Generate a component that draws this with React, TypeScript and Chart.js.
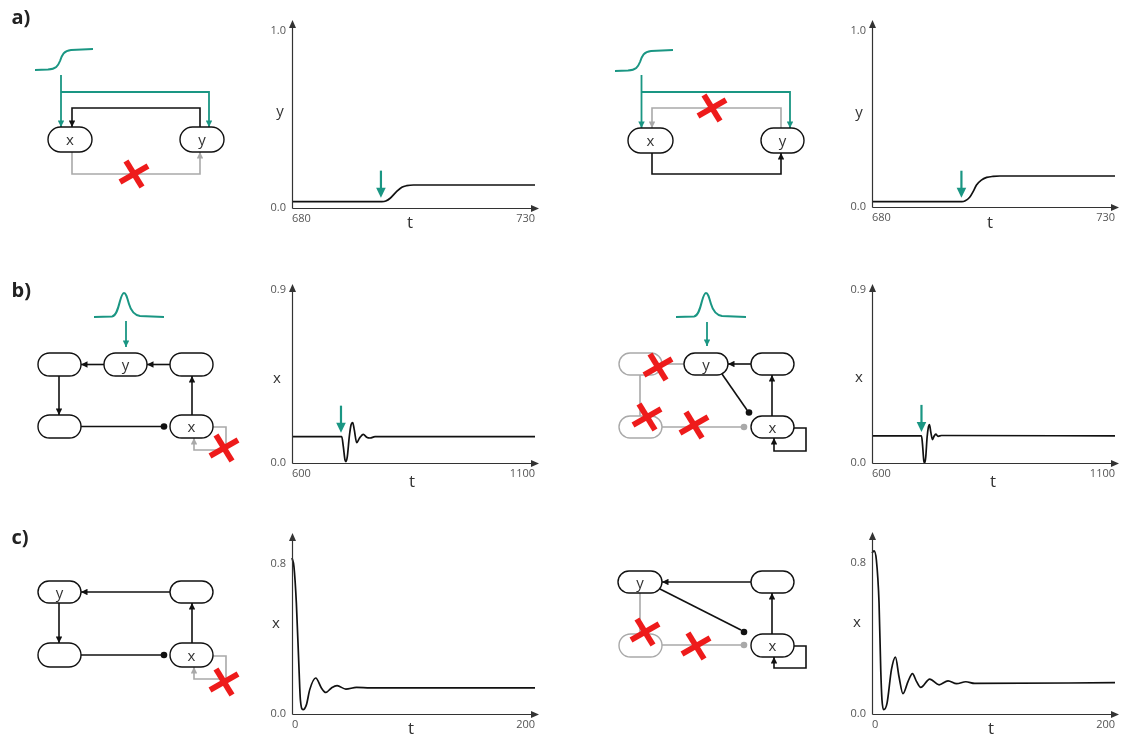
import React, { useEffect, useRef } from "react";
import { Chart, registerables } from "chart.js";

Chart.register(...registerables);

const FONT = "'Open Sans', 'DejaVu Sans', sans-serif";
const TEAL = "#1a9683";
const RED = "#ee1b1b";
const GREY = "#a9a9a9";
const INK = "#111111";
const AXIS = "#333333";
const TICK = "#555555";

// ---------------- data ----------------
const aTicksX = [680, 730];
const aTicksY = [0, 1.0];
const bTicksX = [600, 1100];
const bTicksY = [0, 0.9];
const cTicksX = [0, 200];
const cTicksY = [0, 0.8];

const a1T = [680, 698.5, 699.3, 700.2, 701.5, 702.6, 703.6, 705, 730];
const a1Y = [0.036, 0.036, 0.04, 0.055, 0.092, 0.117, 0.126, 0.13, 0.13];

const a2T = [680, 698.5, 699.1, 700.1, 700.8, 701.5, 702.5, 703.6, 704.9, 706.3, 730];
const a2Y = [0.03, 0.03, 0.034, 0.055, 0.087, 0.125, 0.153, 0.168, 0.174, 0.176, 0.176];

const b1T = [600, 702.3, 705.6, 709, 711, 713.8, 717.9, 721.4, 724.9, 728.2, 733.1, 738.5, 746.7, 753.7, 760.5, 770.8, 1100];
const b1X = [0.137, 0.137, 0.085, 0.016, 0.007, 0.033, 0.137, 0.198, 0.21, 0.172, 0.106, 0.128, 0.149, 0.134, 0.13, 0.137, 0.137];

const b2T = [600, 701.8, 703.8, 706.5, 708.6, 710.6, 713.4, 716.1, 718.2, 720.9, 724.4, 727.7, 731.2, 736, 743, 1100];
const b2X = [0.141, 0.141, 0.101, 0.014, 0.0, 0.031, 0.135, 0.188, 0.2, 0.162, 0.122, 0.139, 0.15, 0.139, 0.143, 0.141];

const c1T = [0, 1.6, 3.6, 5.8, 6.9, 9.1, 11.9, 14.6, 19.5, 24.2, 27.8, 32.5, 37.1, 44.3, 53.1, 64.4, 200];
const c1X = [0.832, 0.786, 0.59, 0.236, 0.076, 0.023, 0.05, 0.13, 0.192, 0.139, 0.115, 0.139, 0.151, 0.133, 0.142, 0.139, 0.139];

const c2T = [0, 1.6, 3.6, 5.8, 7.2, 8.2, 9.6, 12.4, 16, 19.3, 22.2, 25.5, 29.7, 33.3, 36.6, 40.1, 47.5, 55.2, 62.6, 69.6, 77.2, 84.6, 200];
const c2X = [0.853, 0.865, 0.817, 0.588, 0.235, 0.076, 0.023, 0.058, 0.235, 0.302, 0.199, 0.108, 0.173, 0.214, 0.173, 0.141, 0.185, 0.155, 0.176, 0.161, 0.171, 0.162, 0.166];

// perturbation times (green arrows)
const a1Mark = 698.3;
const a2Mark = 698.4;
const b1Mark = 700.8;
const b2Mark = 701.8;

// ---------------- layout ----------------
type PlotCfg = {
  ax: number; bot: number; top: number; right: number;
  t: number[]; v: number[]; xt: number[]; yt: number[];
  ymax: number; topExt: number; mark: number | null;
};

const plots: PlotCfg[] = [
  { ax: 292, bot: 208, top: 31, right: 535, t: a1T, v: a1Y, xt: aTicksX, yt: aTicksY, ymax: 1.0, topExt: 11, mark: a1Mark },
  { ax: 872, bot: 207, top: 31, right: 1115, t: a2T, v: a2Y, xt: aTicksX, yt: aTicksY, ymax: 1.0, topExt: 11, mark: a2Mark },
  { ax: 292, bot: 463, top: 290, right: 535, t: b1T, v: b1X, xt: bTicksX, yt: bTicksY, ymax: 0.9, topExt: 6, mark: b1Mark },
  { ax: 872, bot: 463, top: 290, right: 1115, t: b2T, v: b2X, xt: bTicksX, yt: bTicksY, ymax: 0.9, topExt: 6, mark: b2Mark },
  { ax: 292, bot: 714, top: 534, right: 535, t: c1T, v: c1X, xt: cTicksX, yt: cTicksY, ymax: 0.96, topExt: 1, mark: null },
  { ax: 872, bot: 714, top: 533, right: 1115, t: c2T, v: c2X, xt: cTicksX, yt: cTicksY, ymax: 0.96, topExt: 1, mark: null },
];

const YW = 40;
const XH = 22;
const PADT = 15;
const PADR = 15;

const arrowAxes = {
  id: "arrowAxes",
  afterDraw(chart: any, _args: any, o: any) {
    const { ctx, chartArea: a, scales } = chart;
    const L = Math.round(a.left) + 0.5;
    const B = Math.round(a.bottom) + 0.5;
    ctx.save();
    ctx.strokeStyle = AXIS;
    ctx.fillStyle = AXIS;
    ctx.lineWidth = 1.2;
    const yTip = a.top - o.topExt;
    ctx.beginPath();
    ctx.moveTo(L, B);
    ctx.lineTo(L, yTip + 4);
    ctx.stroke();
    ctx.beginPath();
    ctx.moveTo(L, yTip);
    ctx.lineTo(L - 3.5, yTip + 8);
    ctx.lineTo(L + 3.5, yTip + 8);
    ctx.closePath();
    ctx.fill();
    const xTip = a.right + 4;
    ctx.beginPath();
    ctx.moveTo(L, B);
    ctx.lineTo(xTip - 4, B);
    ctx.stroke();
    ctx.beginPath();
    ctx.moveTo(xTip, B);
    ctx.lineTo(xTip - 8, B - 3.5);
    ctx.lineTo(xTip - 8, B + 3.5);
    ctx.closePath();
    ctx.fill();
    if (o.mark != null) {
      const px = scales.x.getPixelForValue(o.mark);
      const tip = scales.y.getPixelForValue(o.base) - 4;
      ctx.strokeStyle = TEAL;
      ctx.fillStyle = TEAL;
      ctx.lineWidth = 2.2;
      ctx.beginPath();
      ctx.moveTo(px, tip - 27);
      ctx.lineTo(px, tip - 8);
      ctx.stroke();
      ctx.beginPath();
      ctx.moveTo(px, tip);
      ctx.lineTo(px - 4.8, tip - 10);
      ctx.lineTo(px + 4.8, tip - 10);
      ctx.closePath();
      ctx.fill();
    }
    ctx.restore();
  },
};

function Plot({ cfg }: { cfg: PlotCfg }) {
  const ref = useRef<HTMLCanvasElement | null>(null);
  const left = cfg.ax - YW;
  const ctop = cfg.top - PADT;
  const w = cfg.right + PADR - left;
  const h = cfg.bot + XH - ctop;
  useEffect(() => {
    if (!ref.current) return;
    const xmin = cfg.xt[0];
    const xmax = cfg.xt[cfg.xt.length - 1];
    const chart = new Chart(ref.current, {
      type: "line",
      data: {
        datasets: [
          {
            data: cfg.t.map((x, i) => ({ x, y: cfg.v[i] })),
            borderColor: INK,
            borderWidth: 1.7,
            pointRadius: 0,
            cubicInterpolationMode: "monotone",
            fill: false,
            clip: false as any,
          },
        ],
      },
      options: {
        responsive: false,
        animation: false,
        events: [],
        layout: { padding: { top: PADT, right: PADR, left: 0, bottom: 0 } },
        plugins: {
          legend: { display: false },
          tooltip: { enabled: false },
          arrowAxes: { topExt: cfg.topExt, mark: cfg.mark, base: cfg.v[0] },
        } as any,
        scales: {
          x: {
            type: "linear",
            min: xmin,
            max: xmax,
            grid: { display: false, drawTicks: false },
            border: { display: false },
            afterBuildTicks: (s: any) => {
              s.ticks = cfg.xt.map((value) => ({ value }));
            },
            afterFit: (s: any) => {
              s.height = XH;
            },
            ticks: {
              align: "inner",
              padding: 4,
              maxRotation: 0,
              autoSkip: false,
              color: TICK,
              font: { family: FONT, size: 11 },
              callback: (v: any) => String(v),
            },
          },
          y: {
            type: "linear",
            min: 0,
            max: cfg.ymax,
            grid: { display: false, drawTicks: false },
            border: { display: false },
            afterBuildTicks: (s: any) => {
              s.ticks = cfg.yt.map((value) => ({ value }));
            },
            afterFit: (s: any) => {
              s.width = YW;
            },
            ticks: {
              padding: 6,
              autoSkip: false,
              color: TICK,
              font: { family: FONT, size: 11 },
              callback: (v: any) => Number(v).toFixed(1),
            },
          },
        },
      },
      plugins: [arrowAxes as any],
    });
    return () => chart.destroy();
  }, []);
  return (
    <canvas
      ref={ref}
      width={w}
      height={h}
      style={{ position: "absolute", left, top: ctop, width: w, height: h }}
    />
  );
}

// ---------------- diagram helpers ----------------
function Node({ x1, y1, x2, y2, label, grey }: any) {
  const h = y2 - y1;
  return (
    <g>
      <rect x={x1} y={y1} width={x2 - x1} height={h} rx={h / 2} ry={h / 2} fill="#fff" stroke={grey ? GREY : INK} strokeWidth={1.4} />
      {label ? (
        <text x={(x1 + x2) / 2} y={(y1 + y2) / 2 + 5.5} textAnchor="middle" fontSize={15} fill="#333" fontFamily={FONT}>
          {label}
        </text>
      ) : null}
    </g>
  );
}

function Cross({ cx, cy }: any) {
  return (
    <g stroke={RED} strokeWidth={5.8}>
      <line x1={cx - 14} y1={cy + 8} x2={cx + 14} y2={cy - 8} />
      <line x1={cx - 8} y1={cy - 13} x2={cx + 8} y2={cy + 13} />
    </g>
  );
}

function P({ d, c, m }: any) {
  const color = c === "g" ? GREY : c === "t" ? TEAL : INK;
  const mk = m ? `url(#m${c})` : undefined;
  return <path d={d} fill="none" stroke={color} strokeWidth={c === "t" ? 1.8 : 1.6} markerEnd={mk} />;
}

function Dot({ x, y, g }: any) {
  return <circle cx={x} cy={y} r={3.3} fill={g ? GREY : INK} />;
}

const sig = (x0: number, y0: number) =>
  `M${x0},${y0} L${x0 + 13},${y0 - 0.5} C${x0 + 21},${y0 - 1} ${x0 + 23},${y0 - 4} ${x0 + 25},${y0 - 9} C${x0 + 27},${y0 - 15} ${x0 + 29},${y0 - 19.5} ${x0 + 36},${y0 - 20} L${x0 + 58},${y0 - 21}`;

const peak = (x0: number, y0: number) =>
  `M${x0},${y0} L${x0 + 18},${y0 - 0.5} C${x0 + 22},${y0 - 1} ${x0 + 24},${y0 - 8} ${x0 + 26},${y0 - 16} C${x0 + 28},${y0 - 23} ${x0 + 29},${y0 - 24} ${x0 + 30},${y0 - 24} C${x0 + 32},${y0 - 24} ${x0 + 33},${y0 - 20} ${x0 + 35},${y0 - 13} C${x0 + 37},${y0 - 6} ${x0 + 40},${y0 - 2} ${x0 + 46},${y0 - 1} L${x0 + 70},${y0}`;

function Lbl({ x, y, s, size }: any) {
  return (
    <text x={x} y={y} textAnchor="middle" fontSize={size} fill="#333" fontFamily={FONT}>
      {s}
    </text>
  );
}

function Overlay() {
  return (
    <svg width={1123} height={737} style={{ position: "absolute", left: 0, top: 0 }}>
      <defs>
        {[
          ["mk", INK],
          ["mg", GREY],
          ["mt", TEAL],
        ].map(([id, c]) => (
          <marker key={id} id={id} viewBox="0 0 10 10" refX="10" refY="5" markerWidth="7" markerHeight="6.5" markerUnits="userSpaceOnUse" orient="auto">
            <path d="M0,0 L10,5 L0,10 z" fill={c} />
          </marker>
        ))}
      </defs>

      {/* panel letters */}
      <text x={11.5} y={24} fontSize={20} fontWeight={700} fill="#222" fontFamily={FONT}>a)</text>
      <text x={11.5} y={297} fontSize={20} fontWeight={700} fill="#222" fontFamily={FONT}>b)</text>
      <text x={11.5} y={544} fontSize={20} fontWeight={700} fill="#222" fontFamily={FONT}>c)</text>

      {/* plot axis labels */}
      <Lbl x={280} y={116} s="y" size={15} />
      <Lbl x={410} y={228} s="t" size={17} />
      <Lbl x={859} y={117} s="y" size={15} />
      <Lbl x={990} y={228} s="t" size={17} />
      <Lbl x={277} y={382.5} s="x" size={15} />
      <Lbl x={412} y={487} s="t" size={17} />
      <Lbl x={859} y={382} s="x" size={15} />
      <Lbl x={993} y={487} s="t" size={17} />
      <Lbl x={276} y={627.5} s="x" size={15} />
      <Lbl x={411} y={734} s="t" size={17} />
      <Lbl x={857} y={627} s="x" size={15} />
      <Lbl x={991} y={734} s="t" size={17} />

      {/* ---- diagram a-left ---- */}
      <path d={sig(35, 70)} fill="none" stroke={TEAL} strokeWidth={2} />
      <P d="M61,75 L61,127" c="t" m />
      <P d="M61,92 L209,92 L209,127" c="t" m />
      <P d="M200,127 L200,108 L72,108 L72,127" c="k" m />
      <P d="M72,152 L72,174 L200,174 L200,152" c="g" m />
      <Node x1={48} y1={127} x2={92} y2={152} label="x" />
      <Node x1={180} y1={127} x2={224} y2={152} label="y" />
      <Cross cx={134} cy={174} />

      {/* ---- diagram a-right ---- */}
      <path d={sig(615, 71)} fill="none" stroke={TEAL} strokeWidth={2} />
      <P d="M641.5,75 L641.5,128" c="t" m />
      <P d="M641.5,92 L790,92 L790,128" c="t" m />
      <P d="M781,128 L781,108 L652,108 L652,128" c="g" m />
      <P d="M652,153 L652,174 L781,174 L781,153" c="k" m />
      <Node x1={628} y1={128} x2={673} y2={153} label="x" />
      <Node x1={761} y1={128} x2={804} y2={153} label="y" />
      <Cross cx={712} cy={108} />

      {/* ---- diagram b-left ---- */}
      <path d={peak(94, 317)} fill="none" stroke={TEAL} strokeWidth={2} />
      <P d="M126,321 L126,347" c="t" m />
      <P d="M170,364.5 L147,364.5" c="k" m />
      <P d="M104,364.5 L81,364.5" c="k" m />
      <P d="M59,376 L59,415" c="k" m />
      <P d="M81,426.5 L162,426.5" c="k" />
      <Dot x={164} y={426.5} />
      <P d="M192,415 L192,376" c="k" m />
      <P d="M213,427 L226,427 L226,450 L194,450 L194,438" c="g" m />
      <Node x1={38} y1={353} x2={81} y2={376} />
      <Node x1={104} y1={353} x2={147} y2={376} label="y" />
      <Node x1={170} y1={353} x2={213} y2={376} />
      <Node x1={38} y1={415} x2={81} y2={438} />
      <Node x1={170} y1={415} x2={213} y2={438} label="x" />
      <Cross cx={224} cy={448} />

      {/* ---- diagram b-right ---- */}
      <path d={peak(676, 317)} fill="none" stroke={TEAL} strokeWidth={2} />
      <P d="M707,322 L707,346" c="t" m />
      <P d="M684,364 L662,364" c="g" />
      <P d="M751,364 L728,364" c="k" m />
      <P d="M640,375 L640,416" c="g" />
      <P d="M662,427 L741,427" c="g" />
      <Dot x={744} y={427} g />
      <P d="M722,374 L747,410" c="k" />
      <Dot x={749} y={412.5} />
      <P d="M772,416 L772,375" c="k" m />
      <P d="M794,428 L806,428 L806,451 L774,451 L774,438" c="k" m />
      <Node x1={619} y1={353} x2={662} y2={375} grey />
      <Node x1={684} y1={353} x2={728} y2={375} label="y" />
      <Node x1={751} y1={353} x2={794} y2={375} />
      <Node x1={619} y1={416} x2={662} y2={438} grey />
      <Node x1={751} y1={416} x2={794} y2={438} label="x" />
      <Cross cx={658} cy={367} />
      <Cross cx={647} cy={417} />
      <Cross cx={694} cy={425} />

      {/* ---- diagram c-left ---- */}
      <P d="M170,592 L81,592" c="k" m />
      <P d="M59,603 L59,643" c="k" m />
      <P d="M81,655 L162,655" c="k" />
      <Dot x={164} y={655} />
      <P d="M192,643 L192,603" c="k" m />
      <P d="M213,656 L226,656 L226,679 L194,679 L194,667" c="g" m />
      <Node x1={38} y1={581} x2={81} y2={603} label="y" />
      <Node x1={170} y1={581} x2={213} y2={603} />
      <Node x1={38} y1={643} x2={81} y2={667} />
      <Node x1={170} y1={643} x2={213} y2={667} label="x" />
      <Cross cx={224} cy={682} />

      {/* ---- diagram c-right ---- */}
      <P d="M751,582 L662,582" c="k" m />
      <P d="M640,593 L640,634" c="g" />
      <P d="M662,645 L741,645" c="g" />
      <Dot x={744} y={645} g />
      <P d="M660,589 L741,630" c="k" />
      <Dot x={744} y={632} />
      <P d="M772,634 L772,593" c="k" m />
      <P d="M794,646 L806,646 L806,668 L774,668 L774,657" c="k" m />
      <Node x1={618} y1={571} x2={662} y2={593} label="y" />
      <Node x1={751} y1={571} x2={794} y2={593} />
      <Node x1={619} y1={634} x2={662} y2={657} grey />
      <Node x1={751} y1={634} x2={794} y2={657} label="x" />
      <Cross cx={645} cy={632} />
      <Cross cx={696} cy={646} />
    </svg>
  );
}

export default function App() {
  return (
    <div
      style={{
        position: "absolute",
        left: 0,
        top: 0,
        width: 1123,
        height: 737,
        background: "#fff",
        overflow: "hidden",
        fontFamily: FONT,
      }}
    >
      {plots.map((p, i) => (
        <Plot key={i} cfg={p} />
      ))}
      <Overlay />
    </div>
  );
}
